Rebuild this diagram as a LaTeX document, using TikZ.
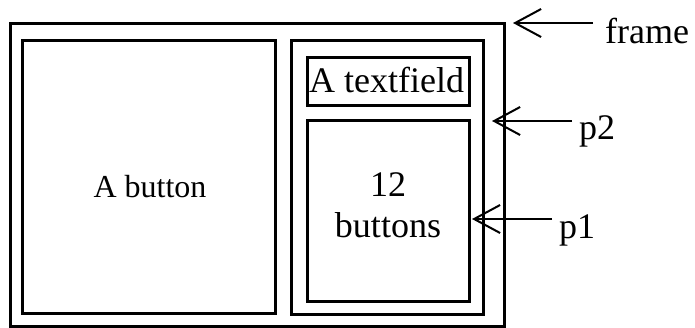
\documentclass[tikz,border=0pt]{standalone}
\usepackage{fontspec}
\setmainfont{Liberation Serif}
\usetikzlibrary{arrows.meta}
\begin{document}
\begin{tikzpicture}[x=1pt,y=-1pt,
  box/.style={draw, line width=3pt, inner sep=0pt, outer sep=0pt, rectangle},
  txt/.style={inner sep=0pt, anchor=base, font=\fontsize{36}{41}\selectfont, align=center},
  pointer/.style={line width=2pt, -{Straight Barb[length=26pt,width=28pt,line width=2pt]}}]
\useasboundingbox (0,0) rectangle (695,327);
% boxes
\node[box, minimum width=494pt, minimum height=303pt] (frame) at (257,174.5) {};
\node[box, minimum width=253pt, minimum height=273pt] (button) at (148.5,176.5) {};
\node[box, minimum width=192pt, minimum height=274pt] (p2) at (387,177) {};
\node[box, minimum width=162pt, minimum height=48pt] (tf) at (388,81) {};
\node[box, minimum width=162pt, minimum height=181pt] (p1) at (388,210.5) {};
% texts
\node[txt, font=\fontsize{32}{37}\selectfont] (tbutton) at (150,197) {A button};
\node[txt] (ttf) at (386.5,92) {A textfield};
\node[txt] (tp1) at (388,237) {12\\buttons};
% labels
\node[txt, anchor=base west] (lframe) at (605,43) {frame};
\node[txt, anchor=base west] (lp2) at (579,139) {p2};
\node[txt, anchor=base west] (lp1) at (559,238) {p1};
% arrow end points
\coordinate (sframe) at (593,23);
\coordinate (eframe) at (513,23);
\coordinate (sp2) at (572,121);
\coordinate (ep2) at (492,121);
\coordinate (sp1) at (552,219);
\coordinate (ep1) at (472,219);
\draw[pointer] (sframe) -- (eframe);
\draw[pointer] (sp2) -- (ep2);
\draw[pointer] (sp1) -- (ep1);
\end{tikzpicture}
\end{document}
